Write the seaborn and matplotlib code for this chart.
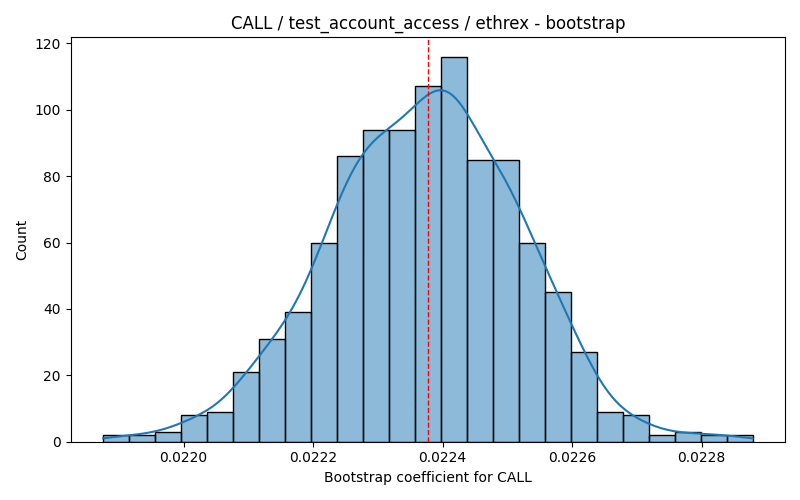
import numpy as np
import pandas as pd
import matplotlib
matplotlib.use("Agg")
import matplotlib.pyplot as plt
import seaborn as sns

# Bootstrap histogram (25 bins)
bin_lo = 0.0218756
bin_hi = 0.0228786
counts = [2, 2, 3, 8, 9, 21, 31, 39, 60, 86, 94, 94, 107,
          116, 85, 85, 60, 45, 27, 9, 8, 2, 3, 2, 2]
point_estimate = 0.022378

edges = np.linspace(bin_lo, bin_hi, len(counts) + 1)
centers = (edges[:-1] + edges[1:]) / 2
# one sample per bootstrap draw, placed at its bin centre
df = pd.DataFrame({"coef": np.repeat(centers, counts)})

fig, ax = plt.subplots(figsize=(8, 5), dpi=100)
sns.histplot(data=df, x="coef", bins=len(counts),
             binrange=(bin_lo, bin_hi), kde=True,
             kde_kws={"cut": 3, "clip": (bin_lo, bin_hi)}, ax=ax)
ax.axvline(point_estimate, color="red", linestyle="--", linewidth=1)

ax.set_title("CALL / test_account_access / ethrex - bootstrap")
ax.set_xlabel("Bootstrap coefficient for CALL")
ax.set_ylabel("Count")

plt.tight_layout()
plt.savefig("out.png")
